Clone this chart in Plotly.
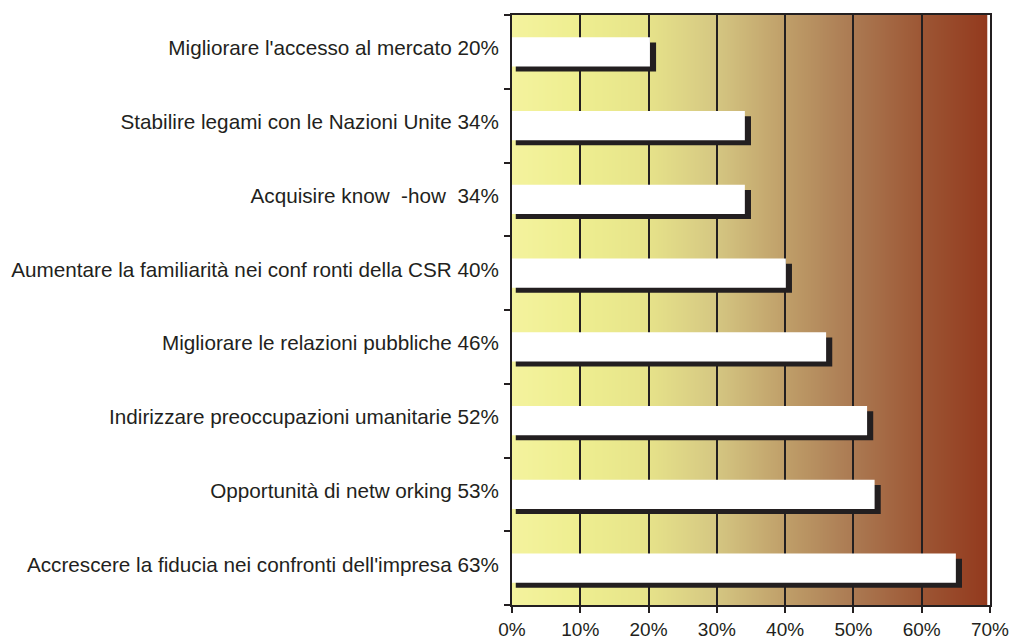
import base64, struct, zlib
import plotly.graph_objects as go

# ---- data ----
categories = [
    "Migliorare l'accesso al mercato",
    "Stabilire legami con le Nazioni Unite",
    "Acquisire know  -how ",
    "Aumentare la familiarità nei conf ronti della CSR",
    "Migliorare le relazioni pubbliche",
    "Indirizzare preoccupazioni umanitarie",
    "Opportunità di netw orking",
    "Accrescere la fiducia nei confronti dell'impresa",
]
pct_labels = ["20%", "34%", "34%", "40%", "46%", "52%", "53%", "63%"]
bar_values = [20.2, 34.1, 34.1, 40.1, 46.0, 52.0, 53.1, 65.0]
x_ticks = [0, 10, 20, 30, 40, 50, 60, 70]
x_tick_labels = ["0%", "10%", "20%", "30%", "40%", "50%", "60%", "70%"]

INK = "#231F20"

# ---- background gradient image (decoration) ----
stops = [
    (0.00, (244, 243, 158)),
    (0.14, (238, 238, 144)),
    (0.28, (231, 228, 138)),
    (0.43, (213, 199, 130)),
    (0.57, (192, 160, 106)),
    (0.71, (172, 124, 84)),
    (0.86, (157, 87, 53)),
    (1.00, (147, 58, 30)),
]

def interp(t):
    for (t0, c0), (t1, c1) in zip(stops[:-1], stops[1:]):
        if t <= t1:
            f = (t - t0) / (t1 - t0) if t1 > t0 else 0
            return tuple(int(round(a + (b - a) * f)) for a, b in zip(c0, c1))
    return stops[-1][1]

def gradient_png(w=480, h=2):
    row = bytes(c for i in range(w) for c in interp(i / (w - 1)))
    raw = b"".join(b"\x00" + row for _ in range(h))
    def chunk(t, d):
        return struct.pack(">I", len(d)) + t + d + struct.pack(">I", zlib.crc32(t + d) & 0xFFFFFFFF)
    png = (b"\x89PNG\r\n\x1a\n"
           + chunk(b"IHDR", struct.pack(">IIBBBBB", w, h, 8, 2, 0, 0, 0))
           + chunk(b"IDAT", zlib.compress(raw))
           + chunk(b"IEND", b""))
    return "data:image/png;base64," + base64.b64encode(png).decode()

pos = list(range(len(categories)))
labels = [f"{c} {p}" for c, p in zip(categories, pct_labels)]

SH_DX0 = 0.55   # shadow left start (%)
SH_DX1 = 0.9    # shadow extension beyond bar (%)
SH_DY = 0.07    # shadow downward shift (category units)
BAR_W = 0.395
LABEL_DY = -0.05

fig = go.Figure()
fig.add_trace(go.Bar(
    y=[p + SH_DY for p in pos],
    x=[v + SH_DX1 - SH_DX0 for v in bar_values],
    base=SH_DX0,
    orientation="h", width=BAR_W,
    marker=dict(color=INK, line=dict(width=0)),
    hoverinfo="skip", showlegend=False,
))
fig.add_trace(go.Bar(
    y=pos, x=bar_values,
    orientation="h", width=BAR_W,
    marker=dict(color="white", line=dict(width=0)),
    showlegend=False,
))

fig.add_layout_image(dict(
    source=gradient_png(), xref="paper", yref="paper",
    x=0, y=1, sizex=69.6 / 70, sizey=1,
    xanchor="left", yanchor="top", sizing="stretch", layer="below",
))

fig.update_layout(
    width=1010, height=642,
    margin=dict(l=512, r=20, t=15, b=37, autoexpand=False),
    paper_bgcolor="white", plot_bgcolor="rgba(0,0,0,0)",
    barmode="overlay",
    font=dict(family="Liberation Sans, Arial, sans-serif", color=INK),
    xaxis=dict(
        range=[0, 70], tickvals=x_ticks, ticktext=x_tick_labels,
        automargin=False, ticklabeloverflow="allow",
        showgrid=True, gridcolor=INK, gridwidth=2,
        showline=True, linecolor=INK, linewidth=2, mirror=True,
        ticks="outside", ticklen=6, tickwidth=2, tickcolor=INK,
        ticklabelstandoff=0,
        tickfont=dict(size=19, color=INK), zeroline=False,
    ),
    yaxis=dict(
        range=[7.5, -0.5], tickvals=[p + LABEL_DY for p in pos], ticktext=labels,
        automargin=False,
        showgrid=False, zeroline=False,
        showline=True, linecolor=INK, linewidth=2, mirror=True,
        ticks="", ticklabelstandoff=7,
        tickfont=dict(size=20.7, color=INK),
        minor=dict(tickmode="linear", tick0=0.5, dtick=1, ticks="outside",
                   ticklen=6, tickwidth=2, tickcolor=INK, showgrid=False),
    ),
)

fig.write_html("out.html")
